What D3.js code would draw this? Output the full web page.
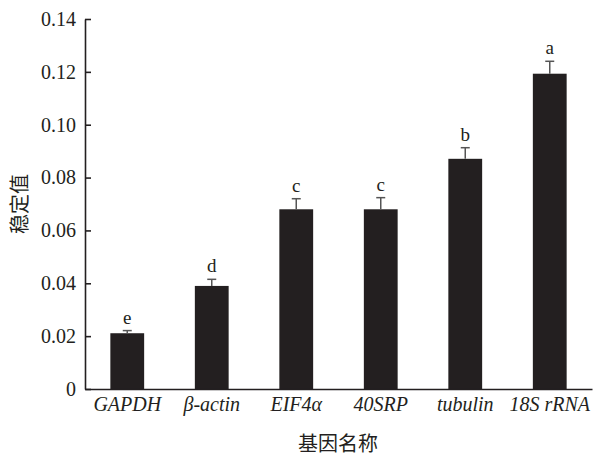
<!DOCTYPE html>
<html>
<head>
<meta charset="utf-8">
<script src="https://cdn.jsdelivr.net/npm/d3@7"></script>
<style>
  body { margin: 0; background: #fff; }
  text { font-family: "Liberation Serif", "Times New Roman", serif; fill: #231f20; }
</style>
</head>
<body>
<svg id="chart" width="594" height="458"></svg>
<script>
   'use strict';

   // values
   const genes = ['GAPDH', 'β-actin', 'EIF4α', '40SRP', 'tubulin', '18S rRNA'];
   const stability = [0.0211, 0.0390, 0.0680, 0.0680, 0.0871, 0.1193];
   const errors = [0.0010, 0.0025, 0.0040, 0.0044, 0.0042, 0.0047];
   const groups = ['e', 'd', 'c', 'c', 'b', 'a'];
   const yTicks = [0, 0.02, 0.04, 0.06, 0.08, 0.10, 0.12, 0.14];
   const yTickLabels = ['0', '0.02', '0.04', '0.06', '0.08', '0.10', '0.12', '0.14'];

   const svg = d3.select('#chart'),
      ink = '#231f20';

   const rows = genes.map((g, i) => ({ gene: g, value: stability[i], err: errors[i], group: groups[i] }));

   const x = d3.scaleBand()
      .domain(genes)
      .range([85, 592])
      .paddingInner(0.6)
      .paddingOuter(0.3);

   const y = d3.scaleLinear()
      .domain([0, 0.14])
      .range([389, 19]);

   // bars
   svg.append('g').selectAll('rect')
      .data(rows)
      .enter().append('rect')
      .attr('x', d => x(d.gene))
      .attr('y', d => y(d.value))
      .attr('width', x.bandwidth())
      .attr('height', d => y(0) - y(d.value))
      .attr('fill', ink);

   // error bars (upper half only)
   const eb = svg.append('g')
      .attr('stroke', '#555')
      .attr('stroke-width', 1.5);

   eb.selectAll('line.stem')
      .data(rows)
      .enter().append('line')
      .attr('class', 'stem')
      .attr('x1', d => x(d.gene) + x.bandwidth() / 2)
      .attr('x2', d => x(d.gene) + x.bandwidth() / 2)
      .attr('y1', d => y(d.value))
      .attr('y2', d => y(d.value + d.err));

   eb.selectAll('line.cap')
      .data(rows)
      .enter().append('line')
      .attr('class', 'cap')
      .attr('x1', d => x(d.gene) + x.bandwidth() / 2 - 4.5)
      .attr('x2', d => x(d.gene) + x.bandwidth() / 2 + 4.5)
      .attr('y1', d => y(d.value + d.err))
      .attr('y2', d => y(d.value + d.err));

   // significance letters
   svg.append('g').selectAll('text')
      .data(rows)
      .enter().append('text')
      .attr('x', d => x(d.gene) + x.bandwidth() / 2)
      .attr('y', d => y(d.value + d.err) - 7)
      .attr('text-anchor', 'middle')
      .style('font-size', '19px')
      .text(d => d.group);

   // y axis, ticks pointing inward
   const yAxis = svg.append('g')
      .attr('transform', 'translate(85,0)')
      .call(d3.axisRight(y)
         .tickValues(yTicks)
         .tickFormat((d, i) => yTickLabels[i])
         .tickSize(6)
         .tickSizeOuter(0));

   yAxis.select('.domain').attr('stroke', ink).attr('stroke-width', 1.6);
   yAxis.selectAll('.tick line').attr('stroke', ink).attr('stroke-width', 1.6);
   yAxis.selectAll('.tick text')
      .attr('x', -9)
      .attr('text-anchor', 'end')
      .attr('fill', ink)
      .style('font-family', '"Liberation Serif", serif')
      .style('font-size', '20px');

   // x axis
   const xAxis = svg.append('g')
      .attr('transform', 'translate(0,389)')
      .call(d3.axisBottom(x).tickSize(0).tickSizeOuter(0));

   xAxis.select('.domain').attr('stroke', ink).attr('stroke-width', 1.6);
   xAxis.selectAll('.tick text')
      .attr('y', 22)
      .attr('dy', 0)
      .attr('fill', ink)
      .style('font-family', '"Liberation Serif", serif')
      .style('font-style', 'italic')
      .style('font-size', '20px');

   // titles
   svg.append('text')
      .attr('x', 338)
      .attr('y', 451)
      .attr('text-anchor', 'middle')
      .style('font-family', '"Noto Sans CJK SC", sans-serif')
      .style('font-size', '20px')
      .text('基因名称');

   svg.append('text')
      .attr('transform', 'translate(27,204) rotate(-90)')
      .attr('text-anchor', 'middle')
      .style('font-family', '"Noto Sans CJK SC", sans-serif')
      .style('font-size', '20px')
      .text('稳定值');
</script>
</body>
</html>
